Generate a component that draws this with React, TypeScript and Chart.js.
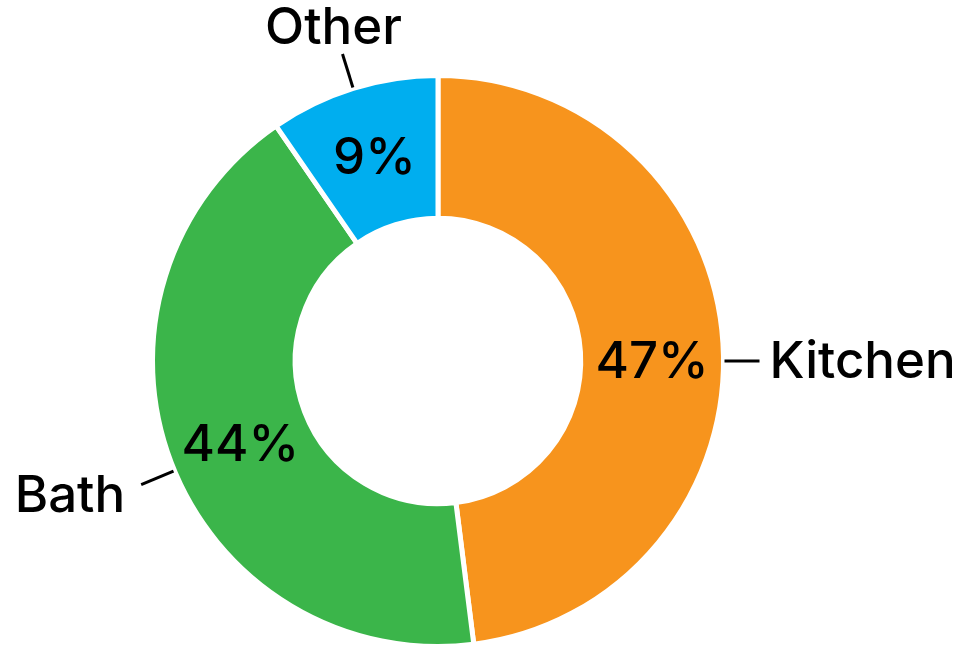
import React, { useEffect, useRef } from "react";
import { Chart, registerables } from "chart.js";

Chart.register(...registerables);

const categories = ["Kitchen", "Bath", "Other"];
const shares = [48, 42.4, 9.6];
const percentLabels = ["47%", "44%", "9%"];
const colors = ["#F7941D", "#3BB54A", "#00AEEF"];

const FONT = "500 51px Inter, 'Noto Sans', sans-serif";

const labelPlugin = {
  id: "donutLabels",
  afterDatasetsDraw(chart: any) {
    const ctx = chart.ctx;
    const meta = chart.getDatasetMeta(0);
    ctx.save();
    ctx.fillStyle = "#000";
    ctx.strokeStyle = "#000";
    ctx.lineWidth = 3;
    ctx.font = FONT;
    meta.data.forEach((arc: any, i: number) => {
      const { x, y, startAngle, endAngle, innerRadius, outerRadius } = arc.getProps(
        ["x", "y", "startAngle", "endAngle", "innerRadius", "outerRadius"],
        true
      );
      let mid = (startAngle + endAngle) / 2;
      if (i === 0) mid = 0; // kitchen label sits at horizontal right
      if (i === 1) mid -= 0.03;
      const rMid = (innerRadius + outerRadius) / 2;
      const cx = Math.cos(mid), cy = Math.sin(mid);
      ctx.textAlign = "center";
      ctx.textBaseline = "middle";
      ctx.fillText(percentLabels[i], x + cx * rMid, y + cy * rMid + 2);
      const r1 = outerRadius + 1;
      const r2 = outerRadius + 36;
      const ex = x + cx * r2, ey = y + cy * r2;
      ctx.beginPath();
      ctx.moveTo(x + cx * r1, y + cy * r1);
      ctx.lineTo(ex, ey);
      ctx.stroke();
      if (i === 0) {
        ctx.textAlign = "left";
        ctx.fillText(categories[i], ex + 10, ey + 2);
      } else if (i === 1) {
        ctx.textAlign = "right";
        ctx.fillText(categories[i], ex - 16, ey + 12);
      } else {
        ctx.textAlign = "center";
        ctx.textBaseline = "alphabetic";
        ctx.fillText(categories[i], ex - 9, ey - 10);
      }
    });
    ctx.restore();
  },
};

export default function App() {
  const ref = useRef<HTMLCanvasElement>(null);
  useEffect(() => {
    if (!ref.current) return;
    const chart = new Chart(ref.current, {
      type: "doughnut",
      data: {
        labels: categories,
        datasets: [
          {
            data: shares,
            backgroundColor: colors,
            borderColor: "#ffffff",
            borderWidth: 5,
          },
        ],
      },
      options: {
        responsive: false,
        animation: false,
        cutout: "50%",
        layout: { padding: { left: 150, top: 73, right: 239, bottom: 7 } },
        plugins: { legend: { display: false }, tooltip: { enabled: false } },
      },
      plugins: [labelPlugin],
    });
    return () => chart.destroy();
  }, []);
  return (
    <div style={{ position: "fixed", left: 0, top: 0, width: 965, height: 656, background: "#fff" }}>
      <canvas ref={ref} width={965} height={656} />
    </div>
  );
}
